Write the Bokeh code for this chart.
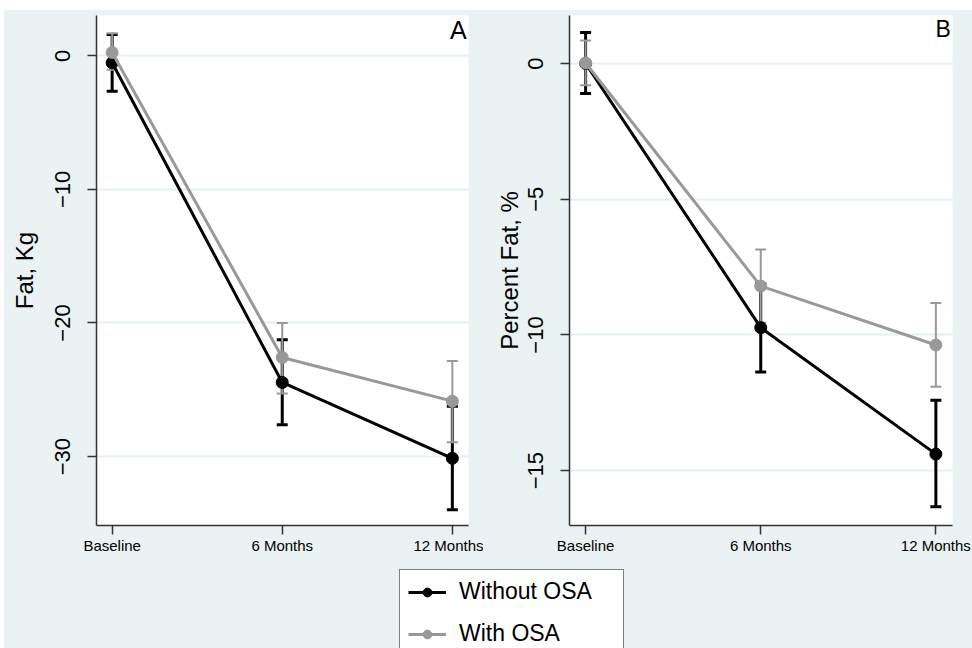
import math
from bokeh.plotting import figure
from bokeh.models import (Range1d, FixedTicker, Whisker, TeeHead, ColumnDataSource,
                          Label, Legend, LegendItem, Spacer)
from bokeh.layouts import column, row
from bokeh.embed import file_html
from bokeh.resources import INLINE

# ---------------- data ----------------
categories = ["Baseline", "6 Months", "12 Months"]

fat_kg_without = [-0.52, -24.45, -30.13]
fat_kg_without_lo = [-2.65, -27.62, -33.98]
fat_kg_without_hi = [1.60, -21.26, -26.23]
fat_kg_with = [0.25, -22.58, -25.85]
fat_kg_with_lo = [-1.05, -25.27, -28.92]
fat_kg_with_hi = [1.70, -20.00, -22.84]

pct_fat_without = [0.0, -9.73, -14.39]
pct_fat_without_lo = [-1.10, -11.36, -16.33]
pct_fat_without_hi = [1.14, -8.10, -12.41]
pct_fat_with = [0.02, -8.20, -10.37]
pct_fat_with_lo = [-0.80, -9.55, -11.91]
pct_fat_with_hi = [0.85, -6.85, -8.82]

yticks_a = [-30, -20, -10, 0]
yticks_b = [-15, -10, -5, 0]

series_labels = ["Without OSA", "With OSA"]

# ---------------- style ----------------
BG = "#EAF2F3"
GRID = "#E6EFF1"
BLACK = "#000000"
GRAY = "#999999"
FONT = "Liberation Sans"

xpos = list(range(len(categories)))


def make_panel(width, mbl, mbr, yr, yticks, ylabel, letter, letter_size,
               tick_standoff, label_standoff, series):
    p = figure(width=width, height=550, output_backend="svg", toolbar_location=None,
               x_range=Range1d(-0.092, 2.095), y_range=Range1d(*yr),
               min_border_left=mbl, min_border_right=mbr,
               min_border_top=5, min_border_bottom=35)
    p.background_fill_color = "white"
    p.border_fill_color = BG
    p.outline_line_color = None
    p.xgrid.grid_line_color = None
    p.ygrid.grid_line_color = GRID
    p.ygrid.grid_line_width = 2
    p.ygrid.ticker = FixedTicker(ticks=yticks)

    p.xaxis.ticker = FixedTicker(ticks=xpos)
    p.xaxis.major_label_overrides = {i: c for i, c in zip(xpos, categories)}
    p.yaxis.ticker = FixedTicker(ticks=yticks)
    p.yaxis.major_label_orientation = "parallel"
    p.yaxis.axis_label = ylabel
    p.yaxis.axis_label_text_font = FONT
    p.yaxis.axis_label_text_font_size = "24px"
    p.yaxis.axis_label_text_font_style = "normal"
    p.yaxis.axis_label_text_color = BLACK
    p.yaxis.axis_label_standoff = label_standoff
    p.yaxis.major_label_text_font_size = "22px"
    p.yaxis.major_label_standoff = tick_standoff
    p.xaxis.major_label_text_font_size = "15px"
    p.xaxis.major_label_standoff = 2
    for ax in (p.xaxis, p.yaxis):
        ax.major_label_text_font = FONT
        ax.major_label_text_color = BLACK
        ax.axis_line_color = "#333333"
        ax.axis_line_width = 1.5
        ax.major_tick_line_color = "#333333"
        ax.major_tick_line_width = 1.5
        ax.major_tick_out = 9
        ax.major_tick_in = 0
        ax.minor_tick_line_color = None

    # error bars (under the lines)
    for (mid, lo, hi, color, lw) in series:
        src = ColumnDataSource(dict(x=xpos, lower=lo, upper=hi))
        w = Whisker(source=src, base="x", lower="lower", upper="upper",
                    dimension="height", line_color=color, line_width=lw, level="underlay",
                    upper_head=TeeHead(size=11, line_color=color, line_width=lw),
                    lower_head=TeeHead(size=11, line_color=color, line_width=lw))
        p.add_layout(w)
    for (mid, lo, hi, color, lw) in series:
        p.line(xpos, mid, line_color=color, line_width=3)
        p.scatter(xpos, mid, size=12, fill_color=color, line_color=color)

    p.add_layout(Label(x=2.085, y=yr[1], text=letter, text_align="right",
                       text_baseline="top", text_font=FONT,
                       text_font_size=letter_size, text_color=BLACK))
    return p


# panel A: page x 4..483, frame 96..468 ; panel B: page x 483..972, frame 569..952
pA = make_panel(479, 92, 15, (-35.16, 3.02), yticks_a, "Fat, Kg", "A", "25px", 17, 15,
                [(fat_kg_without, fat_kg_without_lo, fat_kg_without_hi, BLACK, 3),
                 (fat_kg_with, fat_kg_with_lo, fat_kg_with_hi, GRAY, 2)])
pB = make_panel(489, 86, 20, (-17.02, 1.77), yticks_b, "Percent Fat, %", "B", "23px", 17, 3,
                [(pct_fat_without, pct_fat_without_lo, pct_fat_without_hi, BLACK, 3),
                 (pct_fat_with, pct_fat_with_lo, pct_fat_with_hi, GRAY, 2)])

# ---------------- legend strip ----------------
pL = figure(width=968, height=88, output_backend="svg", toolbar_location=None,
            x_range=Range1d(0, 1), y_range=Range1d(0, 1),
            x_axis_type=None, y_axis_type=None, min_border=0)
pL.background_fill_color = BG
pL.border_fill_color = BG
pL.outline_line_color = None

items = []
for lab, color in zip(series_labels, [BLACK, GRAY]):
    lr = pL.line([-2, -1], [-2, -2], line_color=color, line_width=3)
    sr = pL.scatter([-2], [-2], size=12, fill_color=color, line_color=color)
    items.append(LegendItem(label=lab, renderers=[lr, sr]))

legend = Legend(items=items, location=(395, -8), orientation="vertical",
                padding=8, spacing=15, margin=0,
                glyph_width=38, glyph_height=22, label_height=22,
                label_width=156, label_standoff=13,
                label_text_font=FONT, label_text_font_size="23px",
                label_text_color=BLACK,
                border_line_color="black", border_line_width=1,
                background_fill_color="white", background_fill_alpha=1.0)
pL.add_layout(legend)

white = {"background-color": "white"}
layout = column(Spacer(width=972, height=10, styles=white),
                row(Spacer(width=4, height=550, styles=white), pA, pB),
                row(Spacer(width=4, height=88, styles=white), pL),
                styles={"background-color": BG})

open("out.html", "w").write(file_html(layout, INLINE))
